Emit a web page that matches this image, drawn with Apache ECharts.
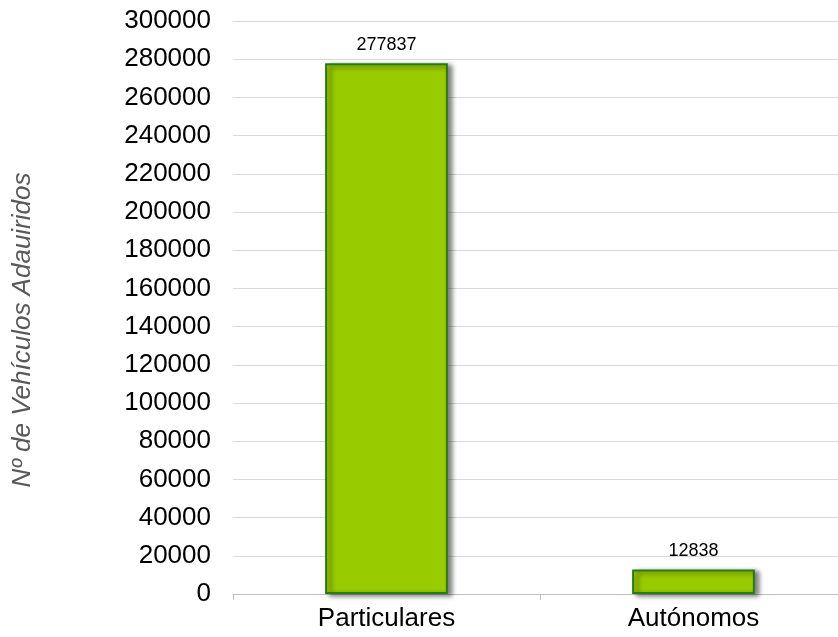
<!DOCTYPE html>
<html>
<head>
<meta charset="utf-8">
<script src="https://cdn.jsdelivr.net/npm/echarts@6/dist/echarts.min.js"></script>
<style>
  html, body { margin: 0; padding: 0; background: #fff; }
  #main { width: 838px; height: 637px; }
</style>
</head>
<body>
<div id="main"></div>
<script>
// datos
const categories = ['Particulares', 'Autónomos']
const vehiculos = [277837, 12838]
const yMin = 0
const yMax = 300000
const yStep = 20000
const yTitle = 'Nº de Vehículos Adauiridos'

const font = 'Liberation Sans, Arial, sans-serif'
const chart = echarts.init(document.getElementById('main'))
const option = {
  animation: false,
  grid: { left: 233, width: 614, top: 21, bottom: 43, containLabel: false, outerBoundsMode: 'none' },
  graphic: [
    {
      type: 'text',
      x: 23,
      y: 330,
      rotation: Math.PI / 2,
      style: {
        text: yTitle,
        fill: '#595959',
        font: 'italic 26px ' + font,
        textAlign: 'center',
        textVerticalAlign: 'middle'
      }
    }
  ],
  xAxis: {
    type: 'category',
    data: categories,
    axisLine: { lineStyle: { color: '#bfbfbf', width: 1 } },
    axisTick: { show: true, length: 6, lineStyle: { color: '#bfbfbf' } },
    axisLabel: { color: '#000', fontSize: 26, fontFamily: font, margin: 12 }
  },
  yAxis: {
    type: 'value',
    min: yMin,
    max: yMax,
    interval: yStep,
    axisLine: { show: false },
    axisTick: { show: false },
    axisLabel: { color: '#000', fontSize: 26, fontFamily: font, margin: 22, formatter: v => String(v) },
    splitLine: { lineStyle: { color: '#d9d9d9', width: 1 } }
  },
  series: [
    {
      type: 'bar',
      data: vehiculos,
      barWidth: '40%',
      itemStyle: {
        color: '#99cc00',
        borderColor: '#2a7a14',
        borderWidth: 2,
        shadowColor: 'rgba(0,0,0,0.5)',
        shadowBlur: 5,
        shadowOffsetX: 4,
        shadowOffsetY: 2
      },
      label: {
        show: true,
        position: 'top',
        distance: 9,
        color: '#000',
        fontSize: 18,
        fontFamily: font
      }
    }
  ]
}
chart.setOption(option)
</script>
</body>
</html>
